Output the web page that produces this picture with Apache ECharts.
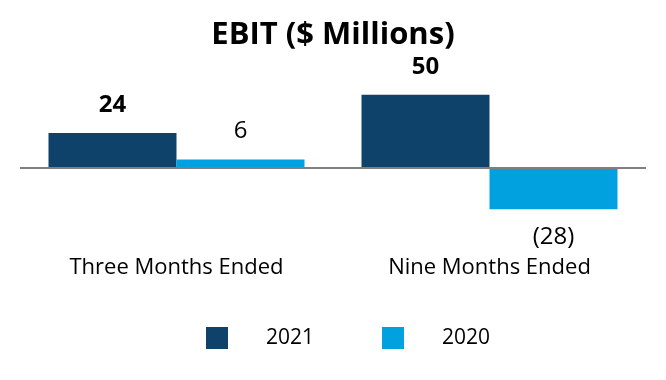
<!DOCTYPE html>
<html><head><meta charset="utf-8">
<script src="https://cdn.jsdelivr.net/npm/echarts@6/dist/echarts.min.js"></script>
<style>html,body{margin:0;padding:0;background:#fff}#c{width:666px;height:380px}</style>
</head><body><div id="c"></div>
<script>
const categories = ['Three Months Ended', 'Nine Months Ended'];
const seriesNames = ['2021', '2020'];
const values2021 = [24, 50];
const values2020 = [6, -28];

const fmt = p => p.value < 0 ? '(' + Math.abs(p.value) + ')' : String(p.value);
const FONT = '"Open Sans", "Noto Sans", sans-serif';
const toItems = arr => arr.map(v => v < 0 ? { value: v, label: { position: 'bottom' } } : v);

const chart = echarts.init(document.getElementById('c'));
chart.setOption({
  animation: false,
  title: {
    text: 'EBIT ($ Millions)', left: 'center', top: 15,
    textStyle: { fontFamily: FONT, fontWeight: 'bold', fontSize: 31, color: '#000' }
  },
  legend: {
    left: 201, top: 322, itemWidth: 22, itemHeight: 22, itemGap: 68,
    icon: 'rect',
    textStyle: { fontFamily: FONT, fontSize: 21, color: '#000', padding: [0, 0, 0, 33] },
    data: seriesNames
  },
  grid: { left: 20, right: 20, top: 80, bottom: 153 },
  xAxis: {
    type: 'category', data: categories,
    axisLine: { show: false, onZero: false }, axisTick: { show: false },
    axisLabel: { margin: 30, fontFamily: FONT, fontSize: 22, color: '#000' }
  },
  yAxis: {
    type: 'value', min: -40, max: 60, show: false, splitLine: { show: false }
  },
  series: [
    {
      name: seriesNames[0], type: 'bar', data: toItems(values2021), barWidth: 128, barGap: '0%',
      itemStyle: { color: '#0f426b' },
      label: { show: true, position: 'top', distance: 16, formatter: fmt,
        fontFamily: FONT, fontSize: 24, fontWeight: 'bold', color: '#000' },
      markLine: {
        silent: true, symbol: 'none', label: { show: false },
        lineStyle: { color: '#7f7f7f', width: 2, type: 'solid' },
        data: [{ yAxis: 0 }]
      }
    },
    {
      name: seriesNames[1], type: 'bar', data: toItems(values2020), barWidth: 128, barGap: '0%',
      itemStyle: { color: '#00a1de' },
      label: { show: true, position: 'top', distance: 16, formatter: fmt,
        fontFamily: FONT, fontSize: 24, fontWeight: 'normal', color: '#000' }
    }
  ]
});
</script></body></html>
